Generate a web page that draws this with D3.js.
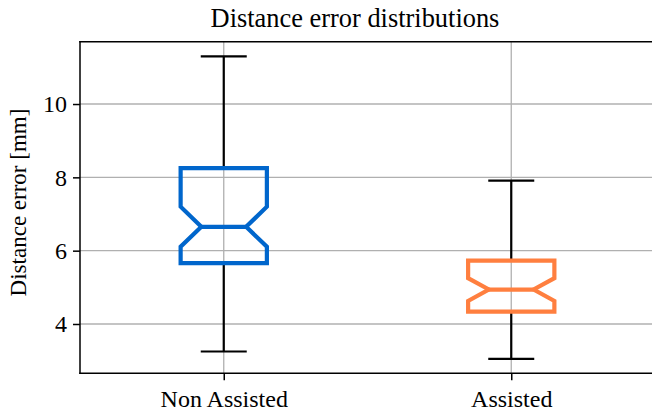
<!DOCTYPE html>
<html>
<head>
<meta charset="utf-8">
<script src="https://cdn.jsdelivr.net/npm/d3@7"></script>
<style>
  html, body { margin: 0; padding: 0; background: #fff; }
  svg { display: block; }
  text { font-family: "Liberation Serif", "DejaVu Serif", serif; fill: #000; }
</style>
</head>
<body>
<svg id="chart" width="652" height="415"></svg>
<script>
const categories = ["Non Assisted", "Assisted"];
const whiskerLow = [3.25, 3.05];
const q1 = [5.66, 4.34];
const median = [6.65, 4.94];
const q3 = [8.25, 5.73];
const whiskerHigh = [11.30, 7.91];
const notchLow = [6.11, 4.63];
const notchHigh = [7.20, 5.25];
const yTicks = [4, 6, 8, 10];
const colors = ["#0066cc", "#ff7f3f"];

(function () {
const W = 652, H = 415;
const pLeft = 80, pTop = 41.7, pBottom = 373.3;
const svg = d3.select("#chart");

const x = d3.scaleLinear().domain([0.5, 2.5]).range([pLeft, pLeft + 575]);
const y = d3.scaleLinear().domain([2.655, 11.70]).range([pBottom, pTop]);

// grid
const grid = svg.append("g");
grid.selectAll("line.hy").data(yTicks).join("line")
  .attr("x1", pLeft).attr("x2", W).attr("y1", d => y(d)).attr("y2", d => y(d))
  .attr("stroke", "#b0b0b0").attr("stroke-width", 1.3);
grid.selectAll("line.vx").data(categories).join("line")
  .attr("x1", (d, i) => x(i + 1)).attr("x2", (d, i) => x(i + 1))
  .attr("y1", pTop).attr("y2", pBottom)
  .attr("stroke", "#b0b0b0").attr("stroke-width", 1.3);

// axes
const yAxis = d3.axisLeft(y).tickValues(yTicks).tickSize(7).tickPadding(6).tickFormat(d3.format("d"));
const gy = svg.append("g").attr("transform", `translate(${pLeft},0)`).call(yAxis);
gy.select(".domain").remove();
gy.selectAll(".tick line").attr("stroke", "#000").attr("stroke-width", 1.5);
gy.selectAll(".tick text").attr("font-size", 24).style("font-family", "Liberation Serif");

const xAxis = d3.axisBottom(x).tickValues([1, 2]).tickSize(7).tickPadding(10.5)
  .tickFormat(d => categories[d - 1]);
const gx = svg.append("g").attr("transform", `translate(0,${pBottom})`).call(xAxis);
gx.select(".domain").remove();
gx.selectAll(".tick line").attr("stroke", "#000").attr("stroke-width", 1.5);
gx.selectAll(".tick text").attr("font-size", 24).attr("dy", "0.66em").style("font-family", "Liberation Serif");

// boxes
const bw = 0.15, nw = 0.078, cw = 0.08;
categories.forEach((c, i) => {
  const p = i + 1;
  const g = svg.append("g");
  g.append("line").attr("x1", x(p)).attr("x2", x(p)).attr("y1", y(q3[i])).attr("y2", y(whiskerHigh[i]))
    .attr("stroke", "#000").attr("stroke-width", 2.2);
  g.append("line").attr("x1", x(p)).attr("x2", x(p)).attr("y1", y(q1[i])).attr("y2", y(whiskerLow[i]))
    .attr("stroke", "#000").attr("stroke-width", 2.2);
  g.append("line").attr("x1", x(p - cw)).attr("x2", x(p + cw)).attr("y1", y(whiskerHigh[i])).attr("y2", y(whiskerHigh[i]))
    .attr("stroke", "#000").attr("stroke-width", 2.2);
  g.append("line").attr("x1", x(p - cw)).attr("x2", x(p + cw)).attr("y1", y(whiskerLow[i])).attr("y2", y(whiskerLow[i]))
    .attr("stroke", "#000").attr("stroke-width", 2.2);
  const pts = [
    [x(p - bw), y(q1[i])], [x(p + bw), y(q1[i])], [x(p + bw), y(notchLow[i])],
    [x(p + nw), y(median[i])], [x(p + bw), y(notchHigh[i])], [x(p + bw), y(q3[i])],
    [x(p - bw), y(q3[i])], [x(p - bw), y(notchHigh[i])], [x(p - nw), y(median[i])],
    [x(p - bw), y(notchLow[i])]
  ];
  g.append("path").attr("d", d3.line()(pts) + "Z")
    .attr("fill", "none").attr("stroke", colors[i]).attr("stroke-width", 4.2)
    .attr("stroke-linejoin", "miter");
  g.append("line").attr("x1", x(p - nw)).attr("x2", x(p + nw)).attr("y1", y(median[i])).attr("y2", y(median[i]))
    .attr("stroke", colors[i]).attr("stroke-width", 4.2);
});

// spines
svg.append("line").attr("x1", pLeft).attr("x2", pLeft).attr("y1", pTop).attr("y2", pBottom).attr("stroke", "#000").attr("stroke-width", 1.5).attr("stroke-linecap", "square");
svg.append("line").attr("x1", pLeft).attr("x2", W).attr("y1", pBottom).attr("y2", pBottom).attr("stroke", "#000").attr("stroke-width", 1.5).attr("stroke-linecap", "square");
svg.append("line").attr("x1", pLeft).attr("x2", W).attr("y1", pTop).attr("y2", pTop).attr("stroke", "#000").attr("stroke-width", 1.5).attr("stroke-linecap", "square");

// title & label
svg.append("text").attr("x", 355).attr("y", 27).attr("text-anchor", "middle")
  .attr("font-size", 26.4).text("Distance error distributions");
svg.append("text").attr("transform", `translate(26,${(pTop + pBottom) / 2 - 5}) rotate(-90)`)
  .attr("text-anchor", "middle").attr("font-size", 23).text("Distance error [mm]");
})();
</script>
</body>
</html>
